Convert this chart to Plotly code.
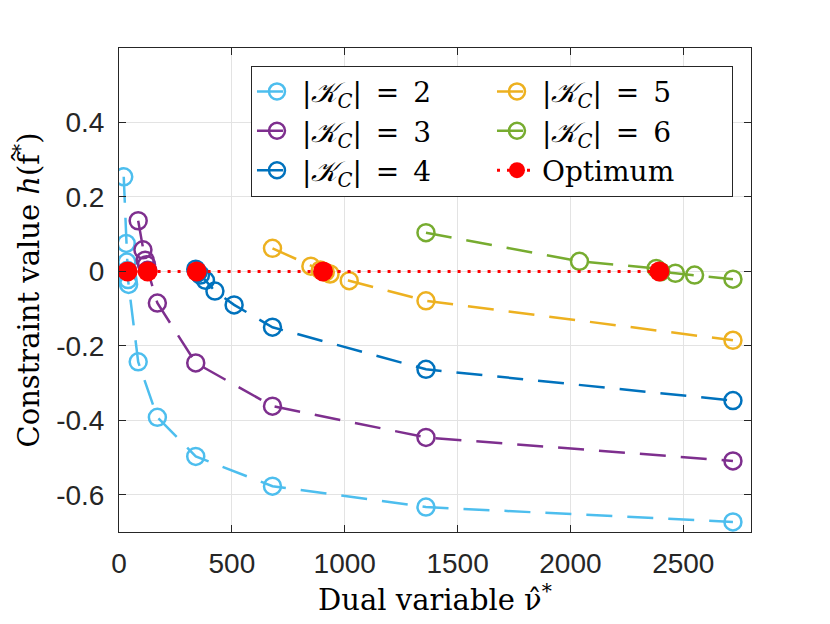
import plotly.graph_objects as go

# dual variable values and constraint values
nu_k2 = [21, 32, 35, 37, 40, 42.5, 85, 170, 340, 680, 1360, 2720]
h_k2 = [0.254, 0.075, 0.025, 0.003, -0.022, -0.035, -0.243, -0.392, -0.497, -0.577, -0.633, -0.673]

nu_k3 = [85, 106, 116, 122, 127, 170, 340, 680, 1360, 2720]
h_k3 = [0.136, 0.058, 0.030, 0.018, 0.003, -0.085, -0.246, -0.362, -0.446, -0.509]

nu_k4 = [340, 350, 361, 383, 425, 510, 680, 1360, 2720]
h_k4 = [0.006, -0.003, -0.010, -0.024, -0.053, -0.090, -0.150, -0.263, -0.347]

nu_k5 = [680, 850, 892, 914, 935, 1020, 1360, 2720]
h_k5 = [0.062, 0.014, 0.004, -0.002, -0.007, -0.025, -0.079, -0.185]

nu_k6 = [1360, 2040, 2380, 2400, 2465, 2550, 2720]
h_k6 = [0.104, 0.027, 0.008, -0.001, -0.005, -0.010, -0.021]

nu_opt = [38, 127, 344, 904, 2394]
h_opt = [0, 0, 0, 0, 0]

y_ticks = [-0.6, -0.4, -0.2, 0, 0.2, 0.4]
y_ticktext = ["-0.6", "-0.4", "-0.2", "0", "0.2", "0.4"]
x_ticks = [0, 500, 1000, 1500, 2000, 2500]

series = [
    ("2", nu_k2, h_k2, "#4DBEEE", 1),
    ("3", nu_k3, h_k3, "#7E2F8E", 3),
    ("4", nu_k4, h_k4, "#0072BD", 5),
    ("5", nu_k5, h_k5, "#EDB120", 2),
    ("6", nu_k6, h_k6, "#77AC30", 4),
]

serif = "DejaVu Serif, Liberation Serif"

fig = go.Figure()

for k, x, y, col, rank in series:
    fig.add_trace(go.Scatter(
        x=x, y=y,
        mode="lines+markers",
        name="|<i>\U0001D4A6</i><sub><i>C</i></sub>|\u2002=\u2002" + k,
        line=dict(color=col, width=2.5, dash="26px,15px"),
        marker=dict(symbol="circle-open", size=17, color=col, line=dict(width=2.5, color=col)),
        legendrank=rank,
    ))

fig.add_trace(go.Scatter(
    x=nu_opt, y=h_opt,
    mode="lines+markers",
    name="Optimum",
    line=dict(color="#FF0000", width=3, dash="3px,7px"),
    marker=dict(symbol="circle", size=20, color="#FF0000"),
    legendrank=6,
))

axis_style = dict(
    showline=True, linecolor="#262626", linewidth=1, mirror="ticks",
    ticks="inside", ticklen=7, tickcolor="#262626",
    showgrid=True, gridcolor="#E3E3E3", gridwidth=1,
    zeroline=False,
    tickfont=dict(family="Liberation Sans, Arial", size=28, color="#262626"),
)

fig.update_xaxes(
    range=[0, 2800], tickvals=x_ticks, ticklabelstandoff=6,
    title=dict(text="Dual variable \u03bd\u0302<sup>*</sup>",
               font=dict(family=serif, size=29, color="#000000"),
               standoff=6),
    **axis_style,
)
fig.update_yaxes(
    range=[-0.7, 0.6], tickvals=y_ticks, ticktext=y_ticktext, ticklabelstandoff=8,
    title=dict(text="Constraint value <i>h</i>(f\u0302<sup>*</sup>)",
               font=dict(family=serif, size=29, color="#000000"),
               standoff=10),
    **axis_style,
)

fig.update_layout(
    width=830, height=624,
    margin=dict(l=111, r=87, t=40, b=100),
    paper_bgcolor="white", plot_bgcolor="white",
    legend=dict(
        orientation="h",
        x=0.9715, xanchor="right", y=0.9634, yanchor="top",
        bgcolor="white", bordercolor="#262626", borderwidth=1,
        font=dict(family=serif, size=28, color="#000000"),
        entrywidth=185, itemwidth=40,
    ),
)

fig.write_html("out.html")
